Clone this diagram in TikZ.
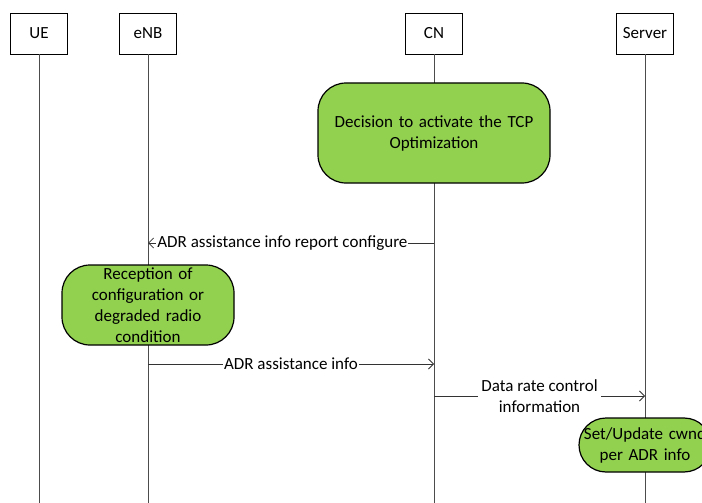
\documentclass[tikz,border=0pt]{standalone}
\usepackage{fontspec}
\setmainfont{Carlito}
\usetikzlibrary{arrows.meta,positioning}
\definecolor{boxgreen}{HTML}{92D050}

\begin{document}
\begin{tikzpicture}[x=1pt,y=-1pt,font=\fontsize{17}{21}\selectfont]
\tikzstyle{entity} = [rectangle, draw=black, line width=0.8pt, fill=white,
minimum width=57pt, minimum height=41pt, inner sep=2pt]
\tikzstyle{action} = [rectangle, draw=black, line width=1.2pt, fill=boxgreen,
text centered, rounded corners=28pt, inner sep=2pt]
\tikzstyle{life} = [draw=black!70, line width=0.9pt]
\tikzstyle{msg} = [draw=black!80, line width=0.8pt, -{Straight Barb[length=5pt,width=10pt]}]
\tikzstyle{lbl} = [fill=white, inner sep=1pt, text centered]
\useasboundingbox (0,0) rectangle (702,503);
\coordinate (bottom) at (0,503);
% entities
\node [entity] (ue) at (39,33.5) {UE};
\node [entity] (enb) at (148,33.5) {eNB};
\node [entity] (cn) at (434,33.5) {CN};
\node [entity] (server) at (645,33.5) {Server};
% lifelines
\path [life] (ue) -- (ue |- bottom);
\path [life] (enb) -- (enb |- bottom);
\path [life] (cn) -- (cn |- bottom);
\path [life] (server) -- (server |- bottom);
% actions
\node [action, minimum width=232pt, minimum height=100pt, text width=220pt]
(decide) at (434,133) {Decision to activate the TCP\\Optimization};
\node [action, minimum width=172pt, minimum height=80pt, text width=165pt]
(receive) at (148,305) {Reception of\\configuration or\\degraded radio\\condition};
\node [action, minimum width=130pt, minimum height=54pt, text width=128pt,
rounded corners=27pt] (update) at (645,445) {Set/Update cwnd\\per ADR info};
% messages
\coordinate (cn1) at (cn |- 0,243);
\coordinate (enb1) at (enb |- 0,243);
\coordinate (enb2) at (enb |- 0,364);
\coordinate (cn2) at (cn |- 0,364);
\coordinate (cn3) at (cn |- 0,396);
\coordinate (server3) at (server |- 0,396);
\path [msg] (cn1) -- node [lbl, pos=0.53] {ADR assistance info report configure} (enb1);
\path [msg] (enb2) -- node [lbl] {ADR assistance info} (cn2);
\path [msg] (cn3) -- node [lbl, align=center, inner sep=3pt] {Data rate control\\information} (server3);
\end{tikzpicture}
\end{document}
